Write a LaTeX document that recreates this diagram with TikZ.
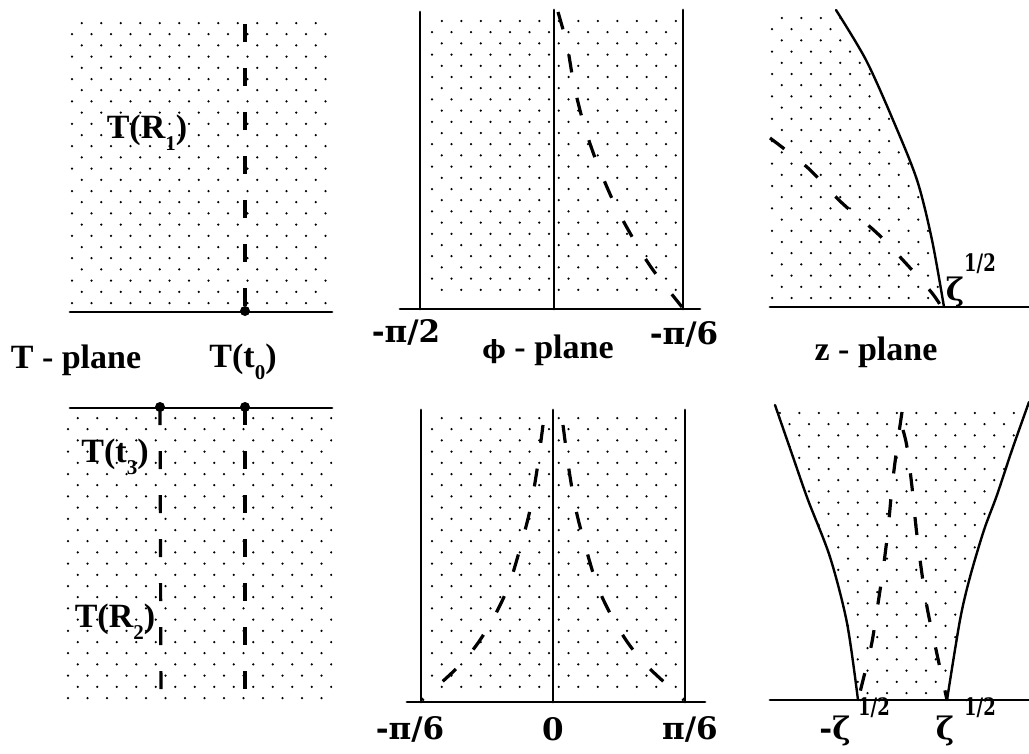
\documentclass[tikz,border=0pt]{standalone}
\usepackage{fontspec}
\setmainfont{Liberation Serif}
\newfontfamily\dvs{DejaVu Serif}
\newcommand\dotgrid[4]{%
  \pgfmathtruncatemacro\nr{((#4)-(#3))/11.2}%
  \pgfmathtruncatemacro\nc{((#2)-(#1))/19.5}%
  \foreach \j in {0,...,\nr}{%
    \pgfmathsetmacro\off{mod(\j+1,2)*9.75}%
    \foreach \i in {0,...,\nc}{%
      \fill ({#1+\i*19.5+\off},{#3+\j*11.2}) circle[radius=1.25pt];
    }}}
\newcommand\sbs[1]{\raisebox{-12pt}{\fontsize{21}{21}\selectfont #1}}
\newcommand\half{\scalebox{0.75}[1]{1/2}}
\begin{document}
\begin{tikzpicture}[x=1pt,y=-1pt,line cap=round,line join=round,
  bl/.style={line width=2.8pt},
  dsh/.style={line width=3.2pt,dash pattern=on 18pt off 26pt,line cap=butt},
  lbl/.style={font=\fontsize{34}{38}\selectfont\bfseries,inner sep=0pt},
  num/.style={font=\dvs\fontsize{31}{34}\selectfont\bfseries,inner sep=0pt},
  suplbl/.style={font=\dvs\fontsize{24}{26}\selectfont\bfseries,inner sep=0pt},
  pnt/.style={fill=black,circle,inner sep=0pt,minimum size=10pt}]
\useasboundingbox[fill=white] (0,0) rectangle (1029,753);

% ---------- dotted regions ----------
\begin{scope}\clip (68,18) rectangle (332,308); \dotgrid{72}{332}{23}{305}\end{scope}
\begin{scope}\clip (425,15) rectangle (680,303); \dotgrid{432}{680}{21}{300}\end{scope}
\begin{scope}\clip (765,12) -- (836,10) -- plot[smooth] coordinates {(836,10) (866,60) (893,120) (917,180) (932,240) (944,307)} -- (765,307) -- cycle;
  \dotgrid{772}{945}{18}{300}\end{scope}
\begin{scope}\clip (65,413) rectangle (332,706); \dotgrid{68}{332}{418}{703}\end{scope}
\begin{scope}\clip (425,413) rectangle (681,699); \dotgrid{432}{681}{418}{697}\end{scope}
\begin{scope}\clip plot[smooth] coordinates {(775,405) (793,457) (808,500) (830,557) (847,623) (858,700)} -- plot[smooth] coordinates {(947,700) (960,620) (970,577) (984,530) (997,495) (1012,450) (1029,402)} -- cycle;
  \dotgrid{770}{1029}{413}{695}\end{scope}

% ---------- T-plane (top) ----------
\draw[bl] (70,312) -- (332,312);
\coordinate (a0) at (245,24);
\node[pnt] (t0) at (245,311) {};
\draw[dsh] (a0) -- (t0.center);
\node[lbl] (r1) at (147,133) {T(R\sbs{1})};

% ---------- phi-plane (top) ----------
\draw[bl] (400,309) -- (700,309);
\draw[bl] (420,12) -- (420,309);
\draw[bl] (554,10) -- (554,309);
\draw[bl] (683,10) -- (683,309);
\draw[dsh] plot[smooth] coordinates {(558,12) (567,45) (574,85) (584,125) (597,163) (615,205) (634,240) (653,270) (682,307)};

% ---------- z-plane (top) ----------
\draw[bl] (770,307) -- (1029,307);
\draw[line width=2.4pt] plot[smooth] coordinates {(836,10) (866,60) (893,120) (917,180) (932,240) (944,307)};
\draw[dsh] plot[smooth] coordinates {(770,138) (808,168) (842,203) (878,234) (912,270) (932,293) (941,306)};
\node[num] (zt) at (955,292) {ζ};
\node[suplbl] (zts) at (980,264) {\half};

% ---------- middle labels ----------
\node[lbl] (tpl) at (76,360) {T - plane};
\node[lbl] (tt0) at (243,362) {T(t\sbs{0})};
\node[num] (mp2) at (406,332) {-π/2};
\node[lbl] (ppl) at (548,350) {{\dvs\fontsize{25}{30}\selectfont ϕ} - plane};
\node[num] (mp6) at (684,334) {-π/6};
\node[lbl] (zpl) at (876,352) {z - plane};

% ---------- T-plane (bottom) ----------
\draw[bl] (70,408) -- (332,408);
\node[pnt] (t3) at (160,407) {};
\node[pnt] (t0b) at (245,407) {};
\coordinate (b3) at (161,703);
\coordinate (b0) at (245,703);
\draw[dsh] (t3.center) -- (b3);
\draw[dsh] (t0b.center) -- (b0);
\node[lbl] (lt3) at (115,457) {T(t\sbs{3})};
\node[lbl] (r2) at (115,622) {T(R\sbs{2})};

% ---------- phi-plane (bottom) ----------
\draw[bl] (407,702) -- (705,702);
\draw[bl] (421,410) -- (421,702);
\draw[bl] (553,410) -- (553,702);
\draw[bl] (685,410) -- (685,702);
\draw[dsh] plot[smooth] coordinates {(543,425) (537,470) (530,510) (521,545) (509,585) (495,615) (478,643) (458,667) (422,700)};
\draw[dsh] plot[smooth] coordinates {(563,425) (569,470) (576,510) (585,545) (597,585) (611,615) (628,643) (648,667) (684,700)};
\node[num] (bm6) at (410,729) {-π/6};
\node[num] (b00) at (553,729) {0};
\node[num] (bp6) at (690,729) {π/6};

% ---------- z-plane (bottom) ----------
\draw[bl] (770,700) -- (1029,700);
\draw[line width=2.4pt] plot[smooth] coordinates {(775,405) (793,457) (808,500) (830,557) (847,623) (858,700)};
\draw[line width=2.4pt] plot[smooth] coordinates {(947,700) (960,620) (970,577) (984,530) (997,495) (1012,450) (1029,402)};
\draw[dsh] plot[smooth] coordinates {(902,412) (897,447) (892,487) (888,530) (883,570) (877,610) (871,647) (858,700)};
\draw[dsh] plot[smooth] coordinates {(903,430) (907,447) (912,487) (916,527) (921,567) (927,607) (935,645) (947,700)};
\node[num] (mz) at (835,731) {-ζ};
\node[suplbl] (mzs) at (874,708) {\half};
\node[num] (pz) at (945,731) {ζ};
\node[suplbl] (pzs) at (980,708) {\half};
\end{tikzpicture}
\end{document}
